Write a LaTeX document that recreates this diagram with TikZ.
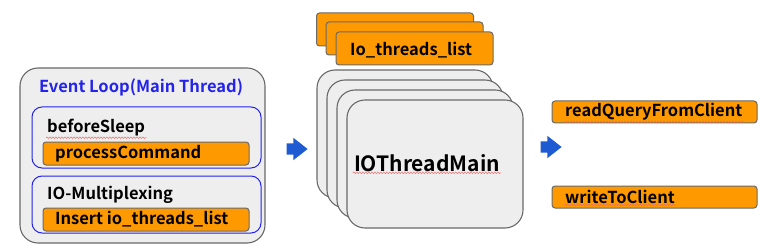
\documentclass[tikz,border=0pt]{standalone}
\usepackage{fontspec}
\setmainfont{Noto Sans CJK KR}[BoldFont={Noto Sans CJK KR Bold}]
\usetikzlibrary{shapes.arrows,decorations.pathmorphing}
\definecolor{panelGray}{RGB}{238,238,238}
\definecolor{edgeGray}{RGB}{105,105,105}
\definecolor{callOrange}{RGB}{255,153,0}
\definecolor{loopBlue}{RGB}{35,35,235}
\definecolor{arrowBlue}{RGB}{30,90,210}
\definecolor{typoRed}{RGB}{235,110,110}
\tikzset{
  panel/.style={draw=edgeGray, fill=panelGray, line width=1.1pt, rounded corners=18pt, inner sep=0pt},
  stage/.style={draw=loopBlue, line width=1pt, rounded corners=10pt, inner sep=0pt},
  func/.style={draw=edgeGray, fill=callOrange, line width=1pt, rounded corners=3pt, inner sep=0pt},
  txt/.style={inner sep=1pt, font=\fontsize{16.5}{19}\selectfont\bfseries},
  flow/.style={single arrow, fill=arrowBlue, draw=none, inner xsep=0pt, inner ysep=5.5pt, minimum height=21pt, single arrow head extend=5.5pt, single arrow tip angle=76},
  typo/.style={typoRed, line width=0.5pt, decorate, decoration={snake, amplitude=0.8pt, segment length=3pt}}
}

\begin{document}
\begin{tikzpicture}[x=1pt, y=-1pt]
  \useasboundingbox (0,0) rectangle (773,251);

  % event loop on the main thread
  \node[panel, minimum width=245pt, minimum height=175pt] (loop) at (142.5,155.5) {};
  \node[txt, text=loopBlue] (title) at (141,87) {Event Loop(Main Thread)};
  \node[stage, minimum width=229pt, minimum height=61pt] (sleep) at (146.5,137.5) {};
  \node[stage, minimum width=229pt, minimum height=57pt] (mux) at (146.5,204.5) {};
  \node[txt, anchor=west] (sleeptxt) at (46,128) {beforeSleep};
  \node[func, minimum width=206pt, minimum height=23pt] (proc) at (146,153.5) {};
  \node[txt, anchor=west] (proctxt) at (54,153.5) {processCommand};
  \node[txt, anchor=west] (muxtxt) at (46,195) {IO-Multiplexing};
  \node[func, minimum width=206pt, minimum height=23pt] (insert) at (146,219.5) {};
  \node[txt, anchor=west] (inserttxt) at (54,219.5) {Insert io\_threads\_list};

  % io threads and their lists
  \node[func, minimum width=157pt, minimum height=33pt] (list1) at (395,29.5) {};
  \node[func, minimum width=157pt, minimum height=33pt] (list2) at (404.5,38.5) {};
  \node[func, minimum width=157pt, minimum height=33pt] (list3) at (414.5,48.5) {};
  \node[txt, anchor=west] (listtxt) at (349,50) {Io\_threads\_list};
  \foreach \i in {0,1,2,3}
    \node[panel, minimum width=176pt, minimum height=128pt] (io\i) at (405+10*\i,134+10*\i) {};
  \node[txt, font=\fontsize{21}{24}\selectfont\bfseries] (iotxt) at (427,163) {IOThreadMain};

  % handlers
  \node[func, minimum width=205pt, minimum height=22pt] (read) at (654.5,112) {};
  \node[txt, anchor=west] (readtxt) at (564,112) {readQueryFromClient};
  \node[func, minimum width=205pt, minimum height=22pt] (write) at (654.5,197) {};
  \node[txt, anchor=west] (writetxt) at (564,197) {writeToClient};

  \node[flow] (go1) at (293.5,149) {};
  \node[flow] (go2) at (547.5,147) {};

  % spell check marks
  \draw[typo] (sleeptxt.south west) -- (sleeptxt.south east);
  \draw[typo] (iotxt.south west) -- (iotxt.south east);
  \draw[typo] (readtxt.south west) -- (readtxt.south east);
  \draw[typo] (writetxt.south west) -- (writetxt.south east);
\end{tikzpicture}
\end{document}
